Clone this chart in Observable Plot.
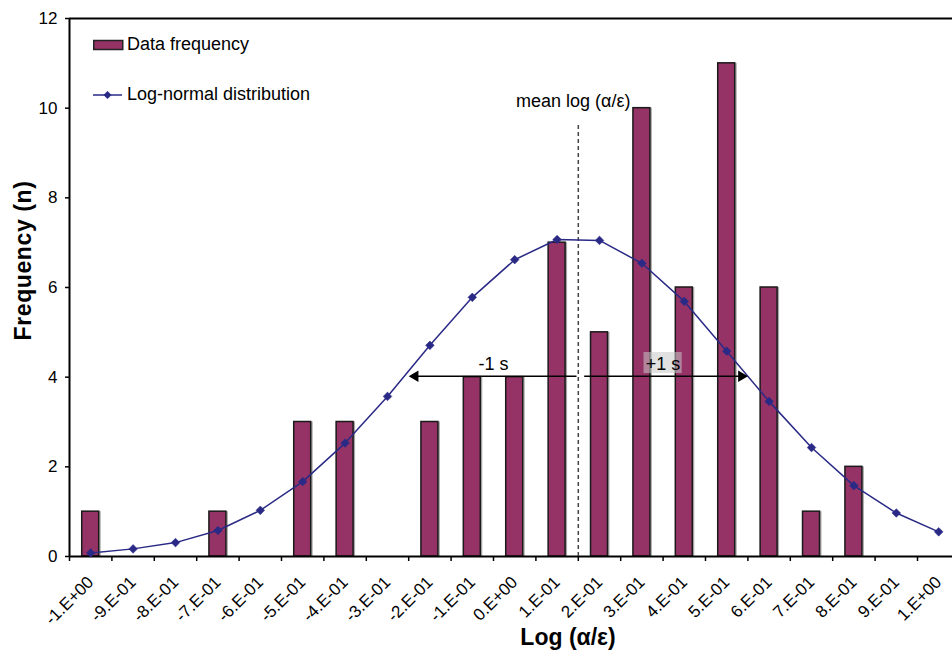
<!DOCTYPE html>
<html>
<head>
<meta charset="utf-8">
<script src="https://cdn.jsdelivr.net/npm/d3@7"></script>
<script src="https://cdn.jsdelivr.net/npm/@observablehq/plot@0.6"></script>
<style>
  body { margin: 0; background: #fff; font-family: "Liberation Sans", Arial, sans-serif; }
  #wrap { position: relative; width: 952px; height: 657px; overflow: hidden; background: #fff; }
  .leg { position: absolute; left: 93px; display: flex; align-items: center; font-size: 18px; color: #000; white-space: nowrap; }
  .leg svg { display: block; margin-right: 3px; }
</style>
</head>
<body>
<div id="wrap">
  <div class="leg" style="top:34px">
    <svg width="31" height="12"><rect x="0.75" y="1.5" width="29" height="9" fill="#953366" stroke="#222" stroke-width="1.5"></rect></svg>
    <span>Data frequency</span>
  </div>
  <div class="leg" style="top:84px">
    <svg width="31" height="12"><line x1="0" y1="6" x2="29" y2="6" stroke="#2a2a86" stroke-width="1.5"></line><path d="M14.5,2 L18.5,6 L14.5,10 L10.5,6 Z" fill="#2a2a86"></path></svg>
    <span>Log-normal distribution</span>
  </div>
</div>
<script>
// ---- data ----
const categories = [-1.0, -0.9, -0.8, -0.7, -0.6, -0.5, -0.4, -0.3, -0.2, -0.1, 0.0, 0.1, 0.2, 0.3, 0.4, 0.5, 0.6, 0.7, 0.8, 0.9, 1.0];
const tickLabels = ["-1.E+00", "-9.E-01", "-8.E-01", "-7.E-01", "-6.E-01", "-5.E-01", "-4.E-01", "-3.E-01", "-2.E-01", "-1.E-01", "0.E+00", "1.E-01", "2.E-01", "3.E-01", "4.E-01", "5.E-01", "6.E-01", "7.E-01", "8.E-01", "9.E-01", "1.E+00"];
const frequency = [1, 0, 0, 1, 0, 3, 3, 0, 3, 4, 4, 7, 5, 10, 6, 11, 6, 1, 2, 0, 0];
const logNormal = [0.08, 0.17, 0.31, 0.58, 1.03, 1.67, 2.53, 3.57, 4.71, 5.78, 6.62, 7.07, 7.05, 6.54, 5.69, 4.58, 3.46, 2.43, 1.58, 0.97, 0.55];
const yTicks = [0, 2, 4, 6, 8, 10, 12];
const meanLog = 0.15;
const sdLog = 0.4;
const arrowLevel = 4.02;
const labelLevel = 4.28;
const meanLineTop = 9.63;
const meanLabelLevel = 10.15;

// ---- derived ----
const data = categories.map((c, i) => ({c, label: tickLabels[i], f: frequency[i], ln: logNormal[i]}));
const step = 0.1;
const boundaries = categories.map(c => c - step / 2).concat([categories[categories.length - 1] + step / 2]);
const halfBar = 0.02;
const xDomain = [boundaries[0], boundaries[boundaries.length - 1]];
const pxPerUnit = 424;
const headOff = 6.5 / pxPerUnit;

const font = '"Liberation Sans", Arial, sans-serif';
const barColor = "#953366";
const lineColor = "#2a2a86";

const chart = Plot.plot({
  width: 952,
  height: 657,
  marginLeft: 69,
  marginTop: 18,
  marginBottom: 101,
  marginRight: 0,
  x: {domain: xDomain, range: [69, 69 + (xDomain[1] - xDomain[0]) * pxPerUnit], label: null},
  y: {domain: [0, 12], range: [556, 18], label: null},
  style: {fontFamily: font, fontSize: "16px", background: "transparent", color: "#000"},
  marks: [
    // bar shadows
    Plot.rect(data.filter(d => d.f > 0), {x1: d => d.c - halfBar, x2: d => d.c + halfBar, y1: d => 0, y2: "f", fill: "#a8a8a8", dx: 2}),
    // bars
    Plot.rect(data.filter(d => d.f > 0), {x1: d => d.c - halfBar, x2: d => d.c + halfBar, y1: d => 0, y2: "f", fill: barColor, stroke: "#1a1a1a", strokeWidth: 1.5}),
    // frame lines
    Plot.ruleY([0], {stroke: "#000", strokeWidth: 2}),
    Plot.ruleY([12], {stroke: "#000", strokeWidth: 2}),
    Plot.ruleX([xDomain[0]], {stroke: "#000", strokeWidth: 2}),
    // axes
    Plot.axisY({ticks: yTicks, tickSize: 4, tickPadding: 8, fontSize: 17, strokeWidth: 1.5, label: null}),
    Plot.axisX({ticks: boundaries, tickSize: 5, tickFormat: () => "", strokeWidth: 1.5, label: null}),
    Plot.text(data, {x: "c", y: d => 0, text: "label", rotate: -45, textAnchor: "end", dx: 0, dy: 23, fontSize: 17, fill: "#000"}),
    // mean line
    Plot.ruleX([meanLog], {y1: 0, y2: meanLineTop, stroke: "#444", strokeWidth: 1.5, strokeDasharray: "4,3"}),
    Plot.text([meanLog], {x: d => d, y: d => meanLabelLevel, text: () => "mean log (α/ε)", textAnchor: "middle", dx: -5, fontSize: 18, fill: "#000"}),
    // log-normal line
    Plot.line(data, {x: "c", y: "ln", stroke: lineColor, strokeWidth: 1.5}),
    Plot.dot(data, {x: "c", y: "ln", symbol: "diamond2", r: 3.9, fill: lineColor, stroke: lineColor, strokeWidth: 0.5}),
    // ±1 s arrows
    Plot.ruleY([{y: arrowLevel, x1: meanLog - 0.003, x2: meanLog - sdLog + headOff}], {y: "y", x1: "x1", x2: "x2", stroke: "#000", strokeWidth: 1.5}),
    Plot.ruleY([{y: arrowLevel, x1: meanLog + 0.015, x2: meanLog + sdLog - headOff}], {y: "y", x1: "x1", x2: "x2", stroke: "#000", strokeWidth: 1.5}),
    Plot.dot([{x: meanLog - sdLog + headOff, y: arrowLevel, r: -90}, {x: meanLog + sdLog - headOff, y: arrowLevel, r: 90}], {x: "x", y: "y", rotate: "r", symbol: "triangle", r: 4.2, fill: "#000"}),
    Plot.rect([{x: meanLog + sdLog / 2}], {x1: d => d.x - 0.045, x2: d => d.x + 0.045, y1: d => labelLevel - 0.2, y2: d => labelLevel + 0.27, fill: "#c8c8c8", fillOpacity: 0.55}),
    Plot.text([{x: meanLog - sdLog / 2, t: "-1 s"}, {x: meanLog + sdLog / 2, t: "+1 s"}], {x: "x", y: d => labelLevel, text: "t", fontSize: 18, fill: "#000"}),
    // axis titles
    Plot.text(["Frequency (n)"], {frameAnchor: "left", textAnchor: "middle", text: d => d, rotate: -90, dx: -46, dy: -27, fontSize: 23, fontWeight: "bold", fill: "#000"}),
    Plot.text(["Log (α/ε)"], {frameAnchor: "bottom", textAnchor: "middle", text: d => d, dx: 57, dy: 88, fontSize: 23, fontWeight: "bold", fill: "#000"})
  ]
});
chart.style.position = "absolute";
chart.style.left = "0";
chart.style.top = "0";
chart.querySelectorAll("text").forEach(t => {
  if (t.textContent === "Frequency (n)") t.style.letterSpacing = "0.6px";
});
const wrap = document.getElementById("wrap");
wrap.insertBefore(chart, wrap.firstChild);
</script>
</body>
</html>
